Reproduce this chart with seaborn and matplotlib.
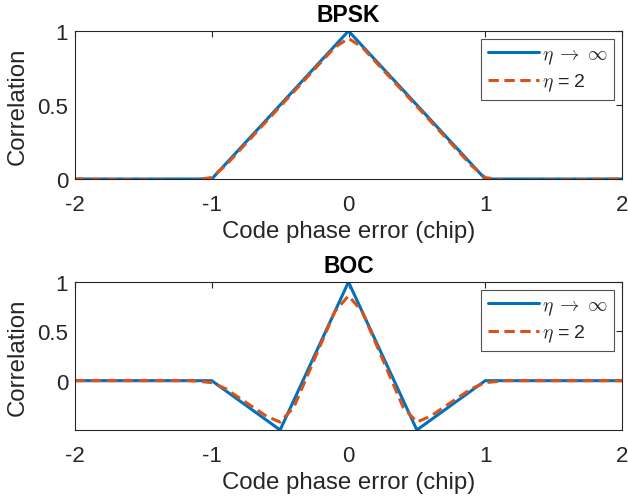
import matplotlib
matplotlib.use("Agg")
import matplotlib.pyplot as plt
import seaborn as sns
import pandas as pd

# ---- data ----
bpsk_ideal_x = [-2, -1, 0, 1, 2]
bpsk_ideal_y = [0, 0, 1, 0, 0]
bpsk_eta2_x = [-2, -1.15, -1.0, -0.9, -0.1, 0, 0.1, 0.9, 1.0, 1.15, 2]
bpsk_eta2_y = [0, -0.01, 0.01, 0.09, 0.89, 0.95, 0.89, 0.09, 0.01, -0.01, 0]

boc_ideal_x = [-2, -1, -0.5, 0, 0.5, 1, 2]
boc_ideal_y = [0, 0, -0.5, 1, -0.5, 0, 0]
boc_eta2_x = [-2, -1.15, -1.0, -0.9, -0.6, -0.5, -0.4, -0.1, 0, 0.1, 0.4, 0.5, 0.6, 0.9, 1.0, 1.15, 2]
boc_eta2_y = [0, 0.0, -0.02, -0.08, -0.36, -0.42, -0.27, 0.70, 0.86, 0.70, -0.27, -0.42, -0.36, -0.08, -0.02, 0.0, 0]

labels = [r"$\eta\;\rightarrow\;\infty$", r"$\eta$ = 2"]
titles = ["BPSK", "BOC"]

sns.set_theme(style="white")
plt.rcParams["font.family"] = ["Liberation Sans", "DejaVu Sans"]
plt.rcParams["mathtext.fontset"] = "cm"
plt.rcParams["axes.unicode_minus"] = False

blue = "#0072BD"
orange = "#D95319"
axcol = "#262626"
dash = (0, (3.4, 1.8))

fig = plt.figure(figsize=(6.28, 5.02), dpi=100)
ax1 = fig.add_axes([75/628, (502-180)/502, 547/628, 148/502])
ax2 = fig.add_axes([75/628, (502-431)/502, 547/628, 148/502])

datasets = [
    (ax1, bpsk_ideal_x, bpsk_ideal_y, bpsk_eta2_x, bpsk_eta2_y, (0, 1), [0, 0.5, 1]),
    (ax2, boc_ideal_x, boc_ideal_y, boc_eta2_x, boc_eta2_y, (-0.5, 1), [0, 0.5, 1]),
]

for i, (ax, ix, iy, ex, ey, ylim, yt) in enumerate(datasets):
    sns.lineplot(x=ix, y=iy, ax=ax, color=blue, linewidth=2.2, label=labels[0],
                 estimator=None, sort=False)
    sns.lineplot(x=ex, y=ey, ax=ax, color=orange, linewidth=2.2, label=labels[1],
                 estimator=None, sort=False, dashes=False)
    ax.lines[1].set_linestyle(dash)
    ax.set_xlim(-2, 2)
    ax.set_ylim(*ylim)
    ax.set_xticks([-2, -1, 0, 1, 2])
    ax.set_xticklabels(["-2", "-1", "0", "1", "2"])
    ax.set_yticks(yt)
    ax.set_yticklabels(["0", "0.5", "1"])
    ax.tick_params(direction="in", length=4, width=0.8, colors=axcol, labelsize=16,
                   top=True, right=True)
    ax.tick_params(axis="x", pad=11)
    ax.tick_params(axis="y", pad=5)
    for s in ax.spines.values():
        s.set_color(axcol)
        s.set_linewidth(0.8)
    ax.set_xlabel("Code phase error (chip)", fontsize=17.3, color=axcol, labelpad=3.5)
    ax.set_ylabel("Correlation", fontsize=17.3, color=axcol, labelpad=6)
    ax.set_title(titles[i], fontsize=16.5, fontweight="bold", color="black", pad=7.5)
    leg = ax.legend(loc="upper right", fontsize=14, frameon=True, fancybox=False,
                    edgecolor=axcol, handlelength=2.6, borderpad=0.35,
                    labelspacing=0.3, handletextpad=0.15, borderaxespad=0.4)
    leg.get_frame().set_linewidth(0.8)
    leg.get_lines()[1].set_linestyle(dash)

fig.savefig("out.png", dpi=100)
